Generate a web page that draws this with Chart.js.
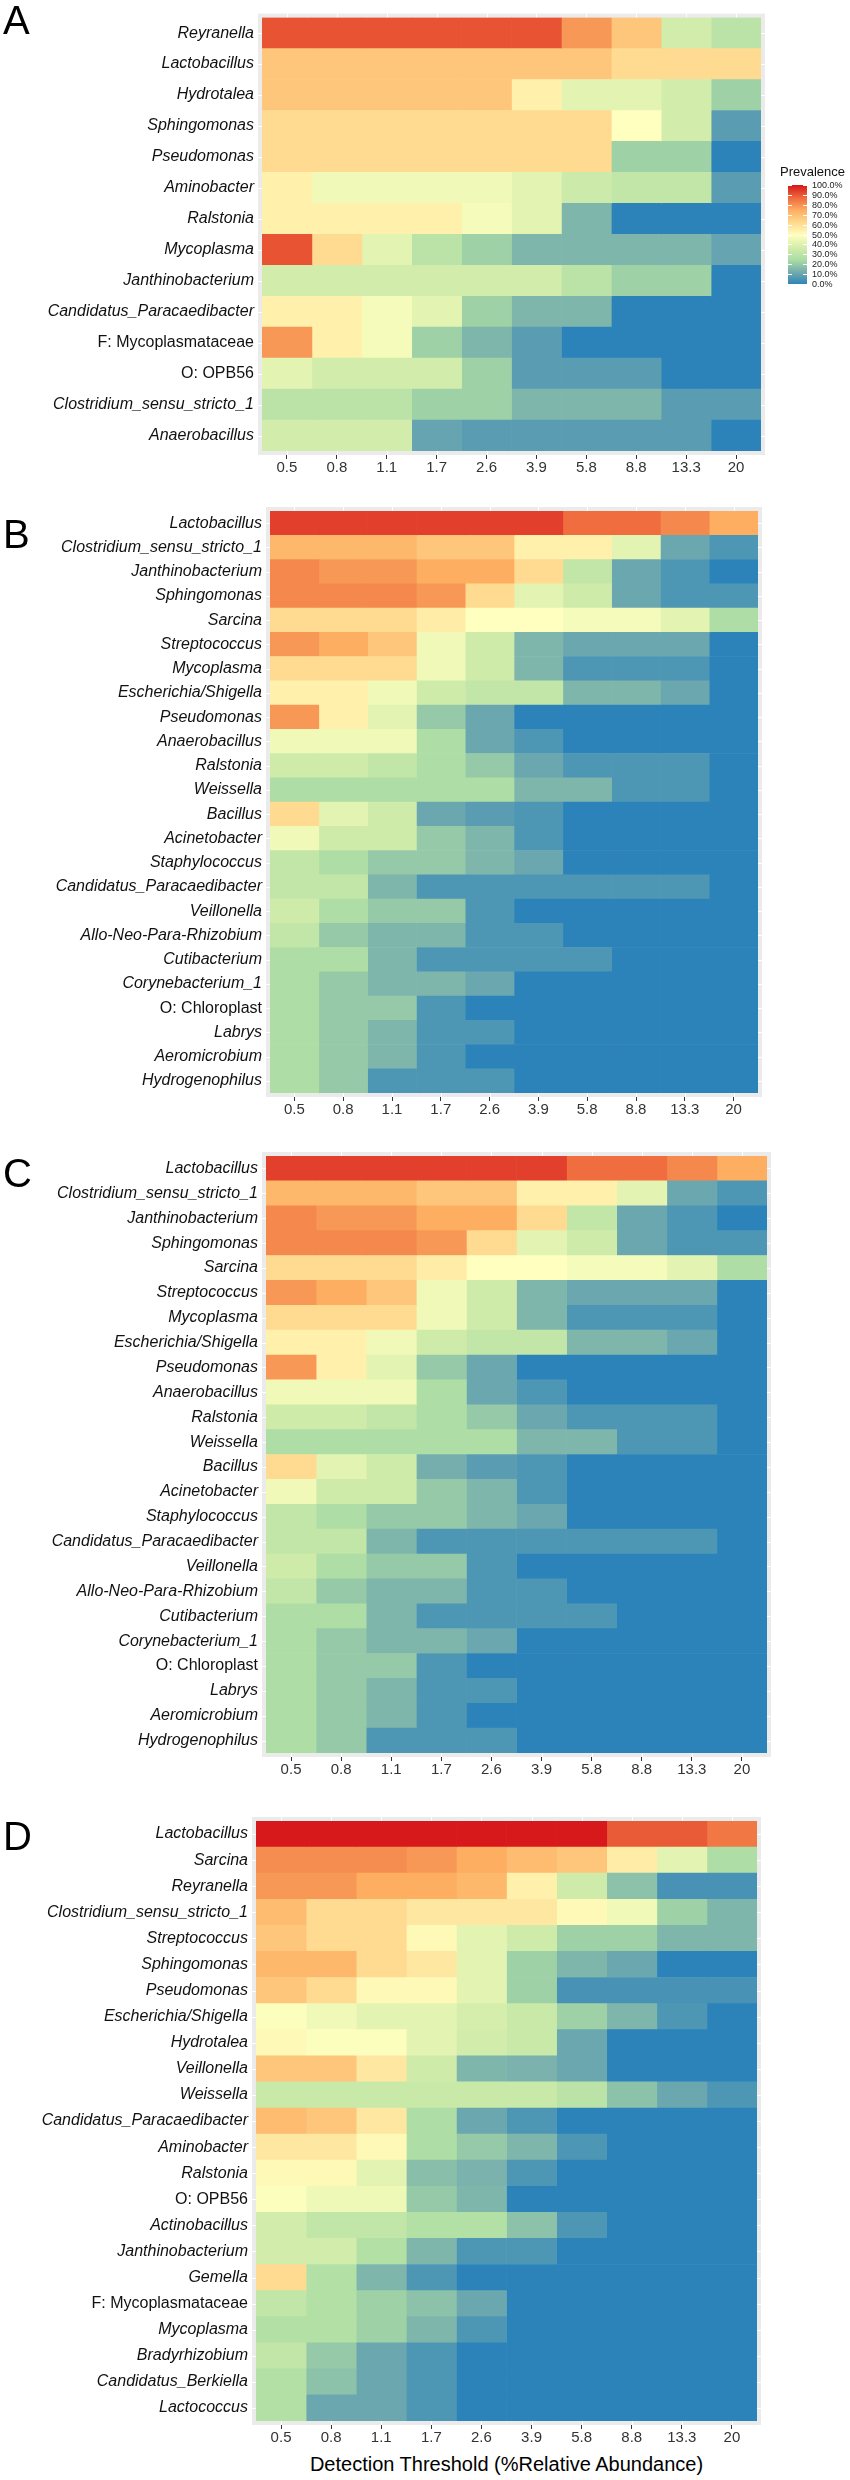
<!DOCTYPE html>
<html>
<head>
<meta charset="utf-8">
<script src="https://cdn.jsdelivr.net/npm/chart.js@4.4.1/dist/chart.umd.min.js"></script>
<style>
  html, body { margin: 0; padding: 0; background: #fff; }
  #page { position: relative; width: 850px; height: 2480px; font-family: "Liberation Sans", Arial, sans-serif; }
  .panel { position: absolute; left: 0; }
  .tag { position: absolute; left: 3px; font-size: 40px; line-height: 40px; color: #000; }
  #xtitle { position: absolute; left: 256px; width: 501px; top: 2454px; text-align: center; font-size: 20px; line-height: 20px; color: #000; }
</style>
</head>
<body>
<div id="page">
  <canvas id="chartA" class="panel" width="850" height="480" style="top:0px"></canvas>
  <canvas id="chartB" class="panel" width="850" height="645" style="top:480px"></canvas>
  <canvas id="chartC" class="panel" width="850" height="660" style="top:1125px"></canvas>
  <canvas id="chartD" class="panel" width="850" height="665" style="top:1785px"></canvas>
  <div class="tag" style="top:0px">A</div>
  <div class="tag" style="top:514px">B</div>
  <div class="tag" style="top:1153px">C</div>
  <div class="tag" style="top:1816px">D</div>
  <div id="xtitle">Detection Threshold (%Relative Abundance)</div>
</div>
<script>
// ---- data (prevalence in %, one row per taxon, one value per threshold) ----
const thresholds = ['0.5', '0.8', '1.1', '1.7', '2.6', '3.9', '5.8', '8.8', '13.3', '20'];
const legendTicks = [0, 10, 20, 30, 40, 50, 60, 70, 80, 90, 100];

const taxaA = ['Reyranella', 'Lactobacillus', 'Hydrotalea', 'Sphingomonas', 'Pseudomonas', 'Aminobacter',
  'Ralstonia', 'Mycoplasma', 'Janthinobacterium', 'Candidatus_Paracaedibacter', 'F: Mycoplasmataceae',
  'O: OPB56', 'Clostridium_sensu_stricto_1', 'Anaerobacillus'];
const prevA = [
  [91, 91, 91, 91, 91, 91, 79, 68, 37, 30],
  [68, 68, 68, 68, 68, 68, 68, 62, 62, 62],
  [68, 68, 68, 68, 68, 55, 42, 42, 37, 22],
  [62, 62, 62, 62, 62, 62, 62, 50, 37, 8],
  [62, 62, 62, 62, 62, 62, 62, 22, 22, 0],
  [55, 46, 46, 46, 46, 42, 35, 32, 32, 8],
  [55, 55, 55, 55, 47, 42, 15, 0, 0, 0],
  [91, 62, 42, 30, 22, 15, 15, 15, 15, 10],
  [37, 37, 37, 37, 37, 37, 30, 22, 22, 0],
  [55, 55, 47, 42, 22, 15, 15, 0, 0, 0],
  [79, 55, 47, 22, 15, 8, 0, 0, 0, 0],
  [42, 37, 37, 37, 22, 8, 8, 8, 0, 0],
  [30, 30, 30, 22, 22, 15, 15, 15, 8, 8],
  [37, 37, 37, 10, 8, 8, 8, 8, 8, 0]
];

const taxaB = ['Lactobacillus', 'Clostridium_sensu_stricto_1', 'Janthinobacterium', 'Sphingomonas', 'Sarcina',
  'Streptococcus', 'Mycoplasma', 'Escherichia/Shigella', 'Pseudomonas', 'Anaerobacillus', 'Ralstonia',
  'Weissella', 'Bacillus', 'Acinetobacter', 'Staphylococcus', 'Candidatus_Paracaedibacter', 'Veillonella',
  'Allo-Neo-Para-Rhizobium', 'Cutibacterium', 'Corynebacterium_1', 'O: Chloroplast', 'Labrys',
  'Aeromicrobium', 'Hydrogenophilus'];
const prevB = [
  [94, 94, 94, 94, 94, 94, 87, 87, 82, 75],
  [72, 72, 72, 68, 68, 55, 55, 42, 11, 6],
  [82, 79, 79, 75, 75, 62, 32, 11, 6, 0],
  [82, 82, 82, 79, 62, 42, 36, 11, 6, 6],
  [62, 62, 62, 56, 50, 50, 47, 47, 42, 26],
  [79, 75, 68, 46, 36, 15, 11, 11, 11, 0],
  [62, 62, 62, 46, 36, 15, 6, 6, 6, 0],
  [55, 55, 46, 36, 32, 32, 15, 15, 11, 0],
  [79, 55, 42, 20, 11, 0, 0, 0, 0, 0],
  [46, 46, 46, 26, 11, 6, 0, 0, 0, 0],
  [36, 36, 32, 26, 20, 11, 6, 6, 6, 0],
  [26, 26, 26, 26, 26, 15, 15, 6, 6, 0],
  [62, 42, 36, 11, 8, 6, 0, 0, 0, 0],
  [46, 36, 36, 20, 15, 6, 0, 0, 0, 0],
  [32, 26, 20, 20, 15, 11, 0, 0, 0, 0],
  [32, 32, 15, 6, 6, 6, 6, 6, 6, 0],
  [36, 26, 20, 20, 6, 0, 0, 0, 0, 0],
  [32, 20, 15, 15, 6, 6, 0, 0, 0, 0],
  [26, 26, 15, 6, 6, 6, 6, 0, 0, 0],
  [26, 20, 15, 15, 11, 0, 0, 0, 0, 0],
  [26, 20, 20, 6, 0, 0, 0, 0, 0, 0],
  [26, 20, 15, 6, 6, 0, 0, 0, 0, 0],
  [26, 20, 15, 6, 0, 0, 0, 0, 0, 0],
  [26, 20, 6, 6, 6, 0, 0, 0, 0, 0]
];

const taxaC = ['Lactobacillus', 'Clostridium_sensu_stricto_1', 'Janthinobacterium', 'Sphingomonas', 'Sarcina',
  'Streptococcus', 'Mycoplasma', 'Escherichia/Shigella', 'Pseudomonas', 'Anaerobacillus', 'Ralstonia',
  'Weissella', 'Bacillus', 'Acinetobacter', 'Staphylococcus', 'Candidatus_Paracaedibacter', 'Veillonella',
  'Allo-Neo-Para-Rhizobium', 'Cutibacterium', 'Corynebacterium_1', 'O: Chloroplast', 'Labrys',
  'Aeromicrobium', 'Hydrogenophilus'];
const prevC = [
  [94, 94, 94, 94, 94, 94, 87, 87, 82, 75],
  [72, 72, 72, 68, 68, 55, 55, 42, 11, 6],
  [82, 79, 79, 75, 75, 62, 32, 11, 6, 0],
  [82, 82, 82, 79, 62, 42, 36, 11, 6, 6],
  [62, 62, 62, 56, 50, 50, 47, 47, 42, 26],
  [79, 75, 68, 46, 36, 15, 11, 11, 11, 0],
  [62, 62, 62, 46, 36, 15, 6, 6, 6, 0],
  [55, 55, 46, 36, 32, 32, 15, 15, 11, 0],
  [79, 55, 42, 20, 11, 0, 0, 0, 0, 0],
  [46, 46, 46, 26, 11, 6, 0, 0, 0, 0],
  [36, 36, 32, 26, 20, 11, 6, 6, 6, 0],
  [26, 26, 26, 26, 26, 15, 15, 6, 6, 0],
  [62, 42, 36, 13, 8, 6, 0, 0, 0, 0],
  [46, 36, 36, 20, 15, 6, 0, 0, 0, 0],
  [32, 26, 20, 20, 15, 11, 0, 0, 0, 0],
  [32, 32, 15, 6, 6, 6, 6, 6, 6, 0],
  [36, 26, 20, 20, 6, 0, 0, 0, 0, 0],
  [32, 20, 15, 15, 6, 6, 0, 0, 0, 0],
  [26, 26, 15, 6, 6, 6, 6, 0, 0, 0],
  [26, 20, 15, 15, 11, 0, 0, 0, 0, 0],
  [26, 20, 20, 6, 0, 0, 0, 0, 0, 0],
  [26, 20, 15, 6, 6, 0, 0, 0, 0, 0],
  [26, 20, 15, 6, 0, 0, 0, 0, 0, 0],
  [26, 20, 6, 6, 6, 0, 0, 0, 0, 0]
];

const taxaD = ['Lactobacillus', 'Sarcina', 'Reyranella', 'Clostridium_sensu_stricto_1', 'Streptococcus',
  'Sphingomonas', 'Pseudomonas', 'Escherichia/Shigella', 'Hydrotalea', 'Veillonella', 'Weissella',
  'Candidatus_Paracaedibacter', 'Aminobacter', 'Ralstonia', 'O: OPB56', 'Actinobacillus', 'Janthinobacterium',
  'Gemella', 'F: Mycoplasmataceae', 'Mycoplasma', 'Bradyrhizobium', 'Candidatus_Berkiella', 'Lactococcus'];
const prevD = [
  [100, 100, 100, 100, 100, 100, 100, 90, 90, 85],
  [81, 81, 81, 79, 75, 71, 68, 56, 42, 26],
  [79, 79, 75, 75, 72, 55, 36, 18, 5, 5],
  [71, 62, 62, 58, 58, 58, 52, 46, 22, 15],
  [68, 62, 62, 52, 42, 36, 22, 22, 15, 15],
  [72, 72, 62, 58, 42, 22, 15, 11, 0, 0],
  [68, 62, 52, 52, 42, 22, 5, 5, 5, 5],
  [49, 46, 42, 42, 38, 34, 22, 15, 6, 0],
  [52, 49, 49, 42, 37, 34, 11, 0, 0, 0],
  [68, 68, 58, 36, 15, 14, 11, 0, 0, 0],
  [34, 34, 34, 34, 34, 34, 30, 18, 11, 6],
  [71, 68, 58, 26, 11, 6, 0, 0, 0, 0],
  [58, 58, 52, 26, 20, 15, 6, 0, 0, 0],
  [52, 52, 42, 17, 14, 6, 0, 0, 0, 0],
  [49, 45, 45, 20, 15, 0, 0, 0, 0, 0],
  [37, 32, 32, 27, 27, 18, 6, 0, 0, 0],
  [37, 37, 27, 15, 6, 6, 0, 0, 0, 0],
  [62, 27, 15, 6, 0, 0, 0, 0, 0, 0],
  [32, 27, 22, 18, 11, 0, 0, 0, 0, 0],
  [27, 27, 22, 15, 6, 0, 0, 0, 0, 0],
  [32, 20, 11, 6, 0, 0, 0, 0, 0, 0],
  [27, 18, 11, 6, 0, 0, 0, 0, 0, 0],
  [27, 11, 11, 6, 0, 0, 0, 0, 0, 0]
];

// ---- colour scale (Spectral, 0% blue -> 100% red) ----
const colorStops = [
  [0, [43, 131, 186]], [12.5, [116, 172, 174]], [25, [171, 221, 164]], [37.5, [212, 237, 171]],
  [50, [255, 255, 191]], [62.5, [254, 217, 142]], [75, [253, 174, 97]], [87.5, [238, 106, 62]],
  [100, [215, 25, 28]]
];
function colorFor(v) {
  v = Math.max(0, Math.min(100, v));
  for (let i = 1; i < colorStops.length; i++) {
    const [v1, c1] = colorStops[i];
    const [v0, c0] = colorStops[i - 1];
    if (v <= v1) {
      const t = (v - v0) / (v1 - v0);
      const c = c0.map((x, k) => Math.round(x + t * (c1[k] - x)));
      return `rgb(${c[0]},${c[1]},${c[2]})`;
    }
  }
  return 'rgb(215,25,28)';
}

const FONT = '"Liberation Sans", Arial, sans-serif';
const PLAIN_LABELS = ['F: Mycoplasmataceae', 'O: OPB56', 'O: Chloroplast'];

// grey ggplot panel + white grid stubs in the expanded margin
const panelBg = {
  id: 'panelBg',
  beforeDatasetsDraw(chart) {
    const { ctx, chartArea: a, scales } = chart;
    const m = 4;
    ctx.save();
    ctx.fillStyle = '#ebebeb';
    ctx.fillRect(a.left - m, a.top - m, a.width + 2 * m, a.height + 2 * m);
    ctx.strokeStyle = '#ffffff';
    ctx.lineWidth = 1;
    ctx.beginPath();
    scales.x.ticks.forEach(t => {
      const px = Math.round(scales.x.getPixelForValue(t.value)) + 0.5;
      ctx.moveTo(px, a.top - m); ctx.lineTo(px, a.top);
      ctx.moveTo(px, a.bottom); ctx.lineTo(px, a.bottom + m);
    });
    scales.y.ticks.forEach((t, i) => {
      const py = Math.round(scales.y.getPixelForTick(i)) + 0.5;
      ctx.moveTo(a.left - m, py); ctx.lineTo(a.left, py);
      ctx.moveTo(a.right, py); ctx.lineTo(a.right + m, py);
    });
    ctx.stroke();
    ctx.restore();
  }
};

// colour bar legend, panel A only
const prevalenceLegend = {
  id: 'prevalenceLegend',
  afterDraw(chart) {
    const ctx = chart.ctx;
    const x0 = 788, w = 19, yTop = 185, yBot = 284;
    ctx.save();
    ctx.fillStyle = '#111';
    ctx.font = `13px ${FONT}`;
    ctx.textAlign = 'left';
    ctx.textBaseline = 'middle';
    ctx.fillText('Prevalence', 780, 172);
    for (let y = yTop; y < yBot; y++) {
      ctx.fillStyle = colorFor((yBot - y) / (yBot - yTop) * 100);
      ctx.fillRect(x0, y, w, 1);
    }
    ctx.strokeStyle = '#fff';
    ctx.lineWidth = 1;
    ctx.font = `9px ${FONT}`;
    legendTicks.forEach(v => {
      const y = Math.round(yBot - v / 100 * (yBot - yTop)) + 0.5;
      ctx.beginPath();
      ctx.moveTo(x0, y); ctx.lineTo(x0 + 4, y);
      ctx.moveTo(x0 + w - 4, y); ctx.lineTo(x0 + w, y);
      ctx.stroke();
      ctx.fillStyle = '#222';
      ctx.fillText(v.toFixed(1) + '%', x0 + w + 5, y);
    });
    ctx.restore();
  }
};

function makePanel(id, taxa, prev, geo, extra) {
  const datasets = thresholds.map((t, j) => ({
    label: t,
    data: taxa.map(() => 1),
    backgroundColor: prev.map(row => colorFor(row[j])),
    borderWidth: 0,
    barPercentage: 1,
    categoryPercentage: 1
  }));
  const canvas = document.getElementById(id);
  new Chart(canvas, {
    type: 'bar',
    data: { labels: taxa, datasets },
    options: {
      indexAxis: 'y',
      responsive: false,
      animation: false,
      devicePixelRatio: 1,
      layout: { padding: { left: 0, right: 850 - geo.right, top: geo.top, bottom: geo.bottom } },
      plugins: { legend: { display: false }, tooltip: { enabled: false } },
      scales: {
        x: {
          type: 'linear', stacked: true, min: 0, max: thresholds.length,
          border: { display: false },
          grid: { drawOnChartArea: false, drawTicks: true, tickLength: 8, color: '#333' },
          afterBuildTicks: s => { s.ticks = thresholds.map((t, i) => ({ value: i + 0.5 })); },
          afterFit: s => { s.height = 24; },
          ticks: {
            autoSkip: false, maxRotation: 0, padding: 0, color: '#333',
            font: { family: FONT, size: 15 },
            callback: (v, i) => thresholds[i]
          }
        },
        y: {
          type: 'category', stacked: true,
          border: { display: false },
          grid: { display: false, drawTicks: false },
          afterFit: s => { s.width = geo.left; },
          ticks: {
            autoSkip: false, padding: 8, color: '#111',
            font: c => ({
              family: FONT, size: 16,
              style: PLAIN_LABELS.includes(c.chart.data.labels[c.index]) ? 'normal' : 'italic'
            })
          }
        }
      }
    },
    plugins: [panelBg].concat(extra || [])
  });
}

makePanel('chartA', taxaA, prevA, { left: 262, right: 761, top: 16, bottom: 5 }, [prevalenceLegend]);
makePanel('chartB', taxaB, prevB, { left: 270, right: 758, top: 31, bottom: 8 });
makePanel('chartC', taxaC, prevC, { left: 266, right: 767, top: 31, bottom: 8 });
makePanel('chartD', taxaD, prevD, { left: 256, right: 757, top: 36, bottom: 5 });
</script>
</body>
</html>
